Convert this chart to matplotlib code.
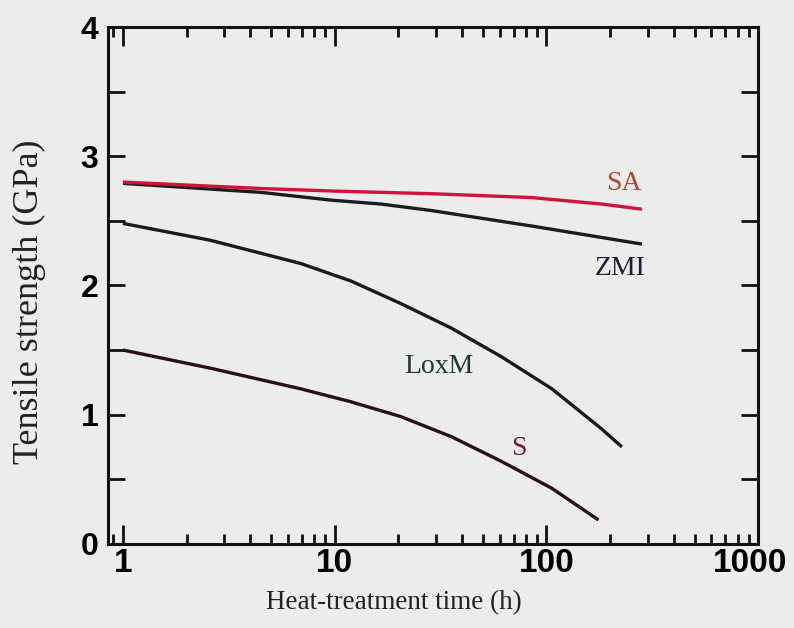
import numpy as np
import matplotlib.pyplot as plt
import matplotlib.transforms as mtransforms
from matplotlib.ticker import MultipleLocator, LogLocator, FixedLocator, NullFormatter

# values (time in h, strength in GPa)
sa_t = [1, 4.5, 10, 28.5, 85, 182, 282]
sa_s = [2.80, 2.75, 2.73, 2.71, 2.68, 2.63, 2.59]

zmi_t = [1, 4.5, 9.6, 16.5, 28.5, 85, 282]
zmi_s = [2.79, 2.72, 2.66, 2.63, 2.58, 2.46, 2.32]

loxm_t = [1, 2.58, 6.9, 11.9, 20.5, 35.5, 61, 106, 182, 227]
loxm_s = [2.48, 2.35, 2.17, 2.035, 1.86, 1.67, 1.45, 1.20, 0.89, 0.75]

s_t = [1, 2.58, 6.9, 11.9, 20.5, 35.5, 61, 106, 176]
s_s = [1.50, 1.36, 1.20, 1.10, 0.985, 0.83, 0.64, 0.43, 0.185]

x_ticks = [1, 10, 100, 1000]
x_ticklabels = ['1', '10', '100', '1000']
y_ticks = [0, 1, 2, 3, 4]

bg = '#ececec'
fig = plt.figure(figsize=(7.94, 6.28), dpi=100, facecolor=bg)
ax = fig.add_axes([0.136, 0.134, 0.819, 0.823], facecolor=bg)

ax.plot(zmi_t, zmi_s, color='#1b1b22', lw=2.4, solid_capstyle='butt', solid_joinstyle='round')
ax.plot(sa_t, sa_s, color='#d0123c', lw=2.4, solid_capstyle='butt', solid_joinstyle='round')
ax.plot(loxm_t, loxm_s, color='#1a1a1a', lw=2.4, solid_capstyle='butt', solid_joinstyle='round')
ax.plot(s_t, s_s, color='#2a0f16', lw=2.4, solid_capstyle='butt', solid_joinstyle='round')

serif = ['Liberation Serif', 'DejaVu Serif']
ax.text(232, 2.79, 'SA', color='#b5402e', fontsize=20, family=serif, ha='center', va='center')
ax.text(222, 2.13, 'ZMI', color='#1c1f38', fontsize=20, family=serif, ha='center', va='center')
ax.text(31, 1.37, 'LoxM', color='#1e3a2c', fontsize=20, family=serif, ha='center', va='center')
ax.text(74, 0.74, 'S', color='#7a1838', fontsize=20, family=serif, ha='center', va='center')

ax.set_xscale('log')
ax.set_xlim(0.85, 1000)
ax.set_ylim(0, 4)

ax.xaxis.set_major_locator(FixedLocator(x_ticks))
ax.set_xticklabels(x_ticklabels)
ax.xaxis.set_minor_locator(LogLocator(base=10, subs=np.arange(2, 10)))
ax.xaxis.set_minor_formatter(NullFormatter())
ax.yaxis.set_major_locator(FixedLocator(y_ticks))
ax.yaxis.set_minor_locator(MultipleLocator(0.5))

ax.tick_params(which='both', direction='in', top=True, right=True, width=2, color='#111111')
ax.tick_params(axis='x', which='major', length=14, pad=3)
ax.tick_params(axis='x', which='minor', length=7)
ax.tick_params(axis='y', which='both', length=12, pad=7)

for lab in ax.get_xticklabels():
    lab.set_fontfamily(['Liberation Sans', 'DejaVu Sans'])
    lab.set_fontweight('bold')
    lab.set_fontsize(24)
for lab in ax.get_yticklabels():
    lab.set_fontfamily(['Liberation Sans', 'DejaVu Sans'])
    lab.set_fontweight('bold')
    lab.set_fontsize(23)

# nudge the "1000" label left so it stays inside the figure, as in the reference
last = ax.get_xticklabels()[-1]
last.set_transform(last.get_transform() + mtransforms.ScaledTranslation(-8 / 100, 0, fig.dpi_scale_trans))

for sp in ax.spines.values():
    sp.set_linewidth(2.2)
    sp.set_color('#111111')

ax.set_xlabel('Heat-treatment time (h)', fontsize=19.5, family=serif, color='#222222')
ax.xaxis.set_label_coords(0.44, -0.09)
ax.set_ylabel('Tensile strength (GPa)', fontsize=26, family=serif, color='#222222')
ax.yaxis.set_label_coords(-0.095, 0.468)

fig.savefig('out.png', dpi=100, facecolor=bg)
